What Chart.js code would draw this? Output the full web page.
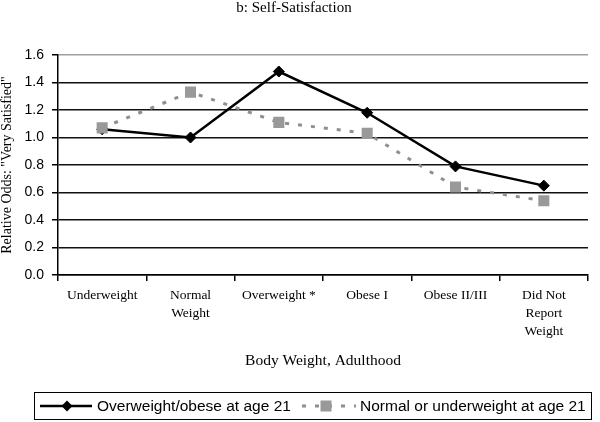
<!DOCTYPE html>
<html>
<head>
<meta charset="utf-8">
<script src="https://cdn.jsdelivr.net/npm/chart.js@4/dist/chart.umd.min.js"></script>
<style>
  body { margin: 0; background: #fff; }
  #wrap { width: 600px; height: 422px; position: relative; }
</style>
</head>
<body>
<div id="wrap"><canvas id="oddsChart"></canvas></div>
<script>
const categories = ["Underweight", ["Normal", "Weight"], "Overweight *", "Obese I", "Obese II/III", ["Did Not", "Report", "Weight"]];
const overweightAt21 = [1.06, 1.00, 1.48, 1.18, 0.79, 0.65];
const normalAt21 = [1.07, 1.33, 1.11, 1.03, 0.64, 0.54];
const yTicks = [0, 0.2, 0.4, 0.6, 0.8, 1.0, 1.2, 1.4, 1.6];

const serif = "'Liberation Serif', 'Times New Roman', serif";
const sans = "'Liberation Sans', Arial, sans-serif";

// legend drawn as a boxed row under the axis title
const boxLegend = {
  id: "boxLegend",
  afterDraw(chart) {
    const ctx = chart.ctx;
    const ds = chart.data.datasets;
    const y = 406;
    ctx.save();
    ctx.strokeStyle = "#000";
    ctx.lineWidth = 1;
    ctx.strokeRect(34.5, 392.5, 557, 27);

    ctx.font = "15.5px " + sans;
    ctx.fillStyle = "#000";
    ctx.textBaseline = "middle";

    // series 1
    ctx.strokeStyle = ds[0].borderColor;
    ctx.lineWidth = ds[0].borderWidth;
    ctx.beginPath();
    ctx.moveTo(40, y);
    ctx.lineTo(92, y);
    ctx.stroke();
    ctx.fillStyle = ds[0].pointBackgroundColor;
    ctx.beginPath();
    ctx.moveTo(67 - 5.5, y);
    ctx.lineTo(67, y - 5.5);
    ctx.lineTo(67 + 5.5, y);
    ctx.lineTo(67, y + 5.5);
    ctx.closePath();
    ctx.fill();
    ctx.fillStyle = "#000";
    ctx.fillText(ds[0].label, 97, y + 1);

    // series 2
    ctx.strokeStyle = ds[1].borderColor;
    ctx.lineWidth = ds[1].borderWidth;
    ctx.setLineDash(ds[1].borderDash);
    ctx.beginPath();
    ctx.moveTo(302, y);
    ctx.lineTo(356, y);
    ctx.stroke();
    ctx.setLineDash([]);
    ctx.fillStyle = ds[1].pointBackgroundColor;
    ctx.fillRect(326 - 5.5, y - 5.5, 11, 11);
    ctx.fillStyle = "#000";
    ctx.fillText(ds[1].label, 360, y + 1);
    ctx.restore();
  },
};

const ctx = document.getElementById("oddsChart").getContext("2d");
const oddsChart = new Chart(ctx, {
  type: "line",
  data: {
    labels: categories,
    datasets: [
      {
        label: "Overweight/obese at age 21",
        data: overweightAt21,
        borderColor: "#000",
        borderWidth: 2.5,
        pointStyle: "rectRot",
        pointRadius: 5.5,
        pointBackgroundColor: "#000",
        pointBorderColor: "#000",
        pointBorderWidth: 1,
        tension: 0,
        order: 1,
      },
      {
        label: "Normal or underweight at age 21",
        data: normalAt21,
        borderColor: "#8f8f8f",
        borderWidth: 3,
        borderDash: [4, 9],
        pointStyle: "rect",
        pointRadius: 7.8,
        pointBackgroundColor: "#999999",
        pointBorderColor: "#999999",
        pointBorderWidth: 0,
        tension: 0,
        order: 0,
      },
    ],
  },
  options: {
    responsive: true,
    maintainAspectRatio: false,
    animation: false,
    layout: { padding: { left: 0, right: 12, top: 0, bottom: 47 } },
    plugins: {
      legend: { display: false },
      tooltip: { enabled: false },
      title: {
        display: true,
        text: "b: Self-Satisfaction",
        color: "#000",
        font: { family: serif, size: 15, weight: "normal", lineHeight: 1 },
        padding: { top: 1, bottom: 39 },
      },
    },
    scales: {
      x: {
        offset: true,
        grid: {
          offset: true,
          drawOnChartArea: true,
          color: (c) => (c.index === categories.length ? "#a0a0a0" : "rgba(0,0,0,0)"),
          tickColor: "#000",
          tickLength: 6,
          lineWidth: 1.5,
        },
        border: { color: "#000", width: 1.5 },
        ticks: {
          color: "#000",
          font: { family: serif, size: 13.5, lineHeight: 1.36 },
          padding: 5,
          maxRotation: 0,
          autoSkip: false,
        },
        title: {
          display: true,
          text: "Body Weight, Adulthood",
          color: "#000",
          font: { family: serif, size: 15.5, lineHeight: 1 },
          padding: { top: 0, bottom: 6 },
        },
        afterFit(scale) {
          scale.height = 100;
        },
      },
      y: {
        min: 0,
        max: 1.6,
        afterBuildTicks(scale) {
          scale.ticks = yTicks.map((v) => ({ value: v }));
        },
        grid: {
          color: (c) => (c.tick && c.tick.value === 1.6 ? "#a0a0a0" : "#111"),
          tickColor: "#000",
          tickLength: 6,
          lineWidth: 1.5,
        },
        border: { color: "#000", width: 1.5 },
        ticks: {
          color: "#000",
          font: { family: sans, size: 14 },
          padding: 8,
          callback: (v) => v.toFixed(1),
        },
        title: {
          display: true,
          text: 'Relative Odds: "Very Satisfied"',
          color: "#000",
          font: { family: serif, size: 14, lineHeight: 1 },
          padding: { top: 0, bottom: 0 },
        },
        afterFit(scale) {
          scale.width = 58;
        },
      },
    },
  },
  plugins: [boxLegend],
});
</script>
</body>
</html>
